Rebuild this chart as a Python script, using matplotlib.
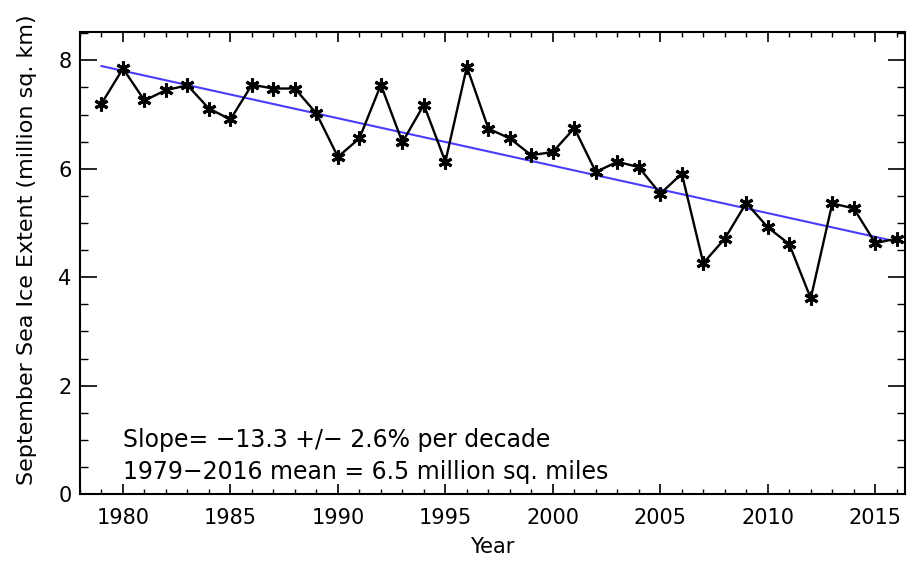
import numpy as np
import matplotlib
matplotlib.use("Agg")
from matplotlib import pyplot as plt
from matplotlib.ticker import MultipleLocator

# September sea ice extent (million sq. km)
years = list(range(1979, 2017))
extent = [7.20, 7.85, 7.26, 7.45, 7.54, 7.11, 6.91, 7.55, 7.48, 7.48,
          7.02, 6.22, 6.56, 7.55, 6.49, 7.18, 6.13, 7.88, 6.74, 6.56,
          6.25, 6.31, 6.75, 5.94, 6.13, 6.03, 5.54, 5.91, 4.26, 4.71,
          5.37, 4.92, 4.61, 3.61, 5.36, 5.27, 4.63, 4.71]
xticks = [1980, 1985, 1990, 1995, 2000, 2005, 2010, 2015]
yticks = [0, 2, 4, 6, 8]

x = np.array(years)
y = np.array(extent)
slope, icpt = np.polyfit(x, y, 1)

fig = plt.figure(figsize=(9.13, 5.64), dpi=100)
ax = fig.add_axes([0.0876, 0.124, 0.904, 0.819])

ax.plot(x, slope * x + icpt, color='#4a3cff', lw=1.5, zorder=2)
ax.plot(x, y, color='black', lw=1.7, marker=(6, 2, 0), ms=10, mew=2.2, zorder=3)

ax.set_xlim(1978, 2016.4)
ax.set_ylim(0, 8.52)
ax.set_xticks(xticks)
ax.set_yticks(yticks)
ax.xaxis.set_minor_locator(MultipleLocator(1))
ax.yaxis.set_minor_locator(MultipleLocator(0.5))
ax.tick_params(axis='x', which='major', direction='in', length=7, width=1.2,
               top=True, labelsize=15, pad=10)
ax.tick_params(axis='x', which='minor', direction='in', length=3.5, width=1,
               top=True)
ax.tick_params(axis='y', which='major', direction='in', length=12, width=1.2,
               right=True, labelsize=15, pad=6)
ax.tick_params(axis='y', which='minor', direction='in', length=6, width=1,
               right=True)
for s in ax.spines.values():
    s.set_linewidth(1.5)

ax.set_xlabel('Year', fontsize=15)
ax.xaxis.set_label_coords(0.5, -0.092)
ax.set_ylabel('September Sea Ice Extent (million sq. km)', fontsize=16)
ax.yaxis.set_label_coords(-0.052, 0.53)

ax.text(1980.0, 0.87, 'Slope= \u221213.3 +/\u2212 2.6% per decade',
        fontsize=17, va='baseline')
ax.text(1980.0, 0.28, '1979\u22122016 mean = 6.5 million sq. miles',
        fontsize=17, va='baseline')

fig.savefig('out.png', dpi=100)
